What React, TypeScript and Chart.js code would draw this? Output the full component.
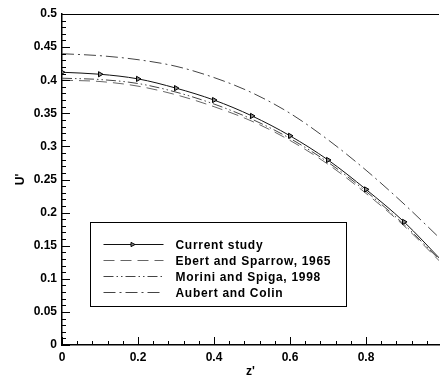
import React, { useEffect, useRef } from 'react';
import { Chart, registerables } from 'chart.js';

Chart.register(...registerables);

const Z = [0, 0.1, 0.2, 0.3, 0.4, 0.5, 0.6, 0.7, 0.8, 0.9, 1.0];
const CURRENT = [0.412, 0.409, 0.402, 0.388, 0.37, 0.346, 0.316, 0.2795, 0.235, 0.186, 0.127];
const EBERT = [0.4, 0.398, 0.391, 0.378, 0.36, 0.338, 0.309, 0.273, 0.229, 0.18, 0.123];
const MORINI = [0.403, 0.401, 0.395, 0.382, 0.364, 0.341, 0.312, 0.276, 0.232, 0.182, 0.125];
const AUBERT = [0.44, 0.437, 0.431, 0.421, 0.404, 0.381, 0.35, 0.31, 0.264, 0.213, 0.158];
const LABELS = ['Current study', 'Ebert and Sparrow, 1965', 'Morini and Spiga, 1998', 'Aubert and Colin'];
const X_TICKS = [0, 0.2, 0.4, 0.6, 0.8];
const Y_TICKS = [0, 0.05, 0.1, 0.15, 0.2, 0.25, 0.3, 0.35, 0.4, 0.45, 0.5];
const X_MAX = 0.992;
const X_MINOR = 0.04;
const Y_MINOR = 0.01;

const FONT = '"Liberation Sans", Arial, sans-serif';
const DASHES: number[][] = [[], [11, 6], [10, 3, 1.5, 3, 1.5, 3], [12, 4, 2, 4]];
const COLORS = ['#111', '#666', '#444', '#444'];

function drawTri(ctx: CanvasRenderingContext2D, x: number, y: number, r: number) {
  ctx.beginPath();
  ctx.moveTo(x + r, y);
  ctx.lineTo(x - r * 0.6, y - r * 0.85);
  ctx.lineTo(x - r * 0.6, y + r * 0.85);
  ctx.closePath();
  ctx.fillStyle = '#888';
  ctx.fill();
  ctx.strokeStyle = '#000';
  ctx.lineWidth = 1;
  ctx.setLineDash([]);
  ctx.stroke();
}

const framePlugin = {
  id: 'framePlugin',
  afterDatasetsDraw(chart: any) {
    const { ctx, chartArea: a, scales } = chart;
    const x = scales.x;
    const y = scales.y;
    ctx.save();
    ctx.strokeStyle = '#000';
    ctx.lineWidth = 1;
    ctx.setLineDash([]);
    ctx.beginPath();
    ctx.moveTo(a.left, a.top + 0.5);
    ctx.lineTo(a.right, a.top + 0.5);
    const ny = Math.round(0.5 / Y_MINOR);
    for (let i = 0; i <= ny; i++) {
      const py = Math.round(y.getPixelForValue(i * Y_MINOR)) + 0.5;
      const len = i % 5 === 0 ? 8 : 4;
      ctx.moveTo(a.left, py);
      ctx.lineTo(a.left + len, py);
    }
    for (let i = 0; i * X_MINOR <= X_MAX; i++) {
      const px = Math.round(x.getPixelForValue(i * X_MINOR)) + 0.5;
      const len = i % 5 === 0 ? 8 : 4;
      ctx.moveTo(px, a.bottom);
      ctx.lineTo(px, a.bottom - len);
    }
    ctx.stroke();

    // legend box
    const bx = a.left + 28.5;
    const by = a.top + 208.5;
    const bw = 256;
    const bh = 84;
    ctx.fillStyle = '#fff';
    ctx.fillRect(bx, by, bw, bh);
    ctx.strokeStyle = '#000';
    ctx.strokeRect(bx, by, bw, bh);
    chart.data.datasets.forEach((ds: any, i: number) => {
      const ry = Math.round(by + 21 + i * 16) + 0.5;
      ctx.strokeStyle = COLORS[i];
      ctx.lineWidth = 1;
      ctx.setLineDash(DASHES[i]);
      ctx.beginPath();
      ctx.moveTo(bx + 13, ry);
      ctx.lineTo(bx + 73, ry);
      ctx.stroke();
      if (i === 0) drawTri(ctx, bx + 42, ry, 2.5);
      ctx.setLineDash([]);
      ctx.fillStyle = '#000';
      ctx.font = `bold 12px ${FONT}`;
      (ctx as any).letterSpacing = '0.7px';
      ctx.textBaseline = 'middle';
      ctx.textAlign = 'left';
      ctx.fillText(ds.label, bx + 85, ry + 1);
      (ctx as any).letterSpacing = '0px';
    });
    ctx.restore();
  },
};

export default function App() {
  const ref = useRef<HTMLCanvasElement | null>(null);
  useEffect(() => {
    if (!ref.current) return;
    const mk = (vals: number[]) => Z.map((z, i) => ({ x: z, y: vals[i] }));
    const series = [CURRENT, EBERT, MORINI, AUBERT];
    const chart = new Chart(ref.current, {
      type: 'line',
      data: {
        datasets: series.map((vals, i) => ({
          label: LABELS[i],
          data: mk(vals),
          borderColor: COLORS[i],
          borderWidth: 1,
          borderDash: DASHES[i],
          pointRadius: i === 0 ? 3 : 0,
          pointStyle: 'triangle',
          rotation: 90,
          pointBackgroundColor: '#888',
          pointBorderColor: '#000',
          pointBorderWidth: 1,
          cubicInterpolationMode: 'monotone',
          fill: false,
        })),
      },
      options: {
        animation: false,
        responsive: true,
        maintainAspectRatio: false,
        layout: { padding: { top: 14, left: 0, right: 0, bottom: 0 } },
        plugins: { legend: { display: false }, tooltip: { enabled: false } },
        scales: {
          x: {
            type: 'linear',
            min: 0,
            max: X_MAX,
            afterBuildTicks: (s: any) => {
              s.ticks = X_TICKS.map((v) => ({ value: v }));
            },
            afterFit: (s: any) => {
              s.height = 34;
            },
            grid: { display: false, drawTicks: false, tickLength: 0 },
            border: { display: true, color: '#000', width: 1.5 },
            ticks: {
              padding: 5,
              color: '#000',
              font: { family: FONT, size: 12, weight: 'bold' },
              maxRotation: 0,
              callback: (v: any) => String(+Number(v).toFixed(2)),
            },
            title: {
              display: true,
              text: "z'",
              color: '#000',
              font: { family: FONT, size: 12, weight: 'bold' },
              padding: { top: 0, bottom: 0 },
            },
          },
          y: {
            type: 'linear',
            min: 0,
            max: 0.5,
            afterBuildTicks: (s: any) => {
              s.ticks = Y_TICKS.map((v) => ({ value: v }));
            },
            afterFit: (s: any) => {
              s.width = 62;
            },
            grid: { display: false, drawTicks: false, tickLength: 0 },
            border: { display: true, color: '#000', width: 1.5 },
            ticks: {
              padding: 5,
              color: '#000',
              font: { family: FONT, size: 12, weight: 'bold' },
              callback: (v: any) => String(+Number(v).toFixed(2)),
            },
            title: {
              display: true,
              text: "U'",
              color: '#000',
              font: { family: FONT, size: 12, weight: 'bold' },
              padding: { top: 13, bottom: 0 },
            },
          },
        },
      },
      plugins: [framePlugin],
    });
    return () => chart.destroy();
  }, []);
  return (
    <div style={{ position: 'absolute', left: 0, top: 0, width: 444, height: 379, background: '#fff' }}>
      <canvas ref={ref} />
    </div>
  );
}
